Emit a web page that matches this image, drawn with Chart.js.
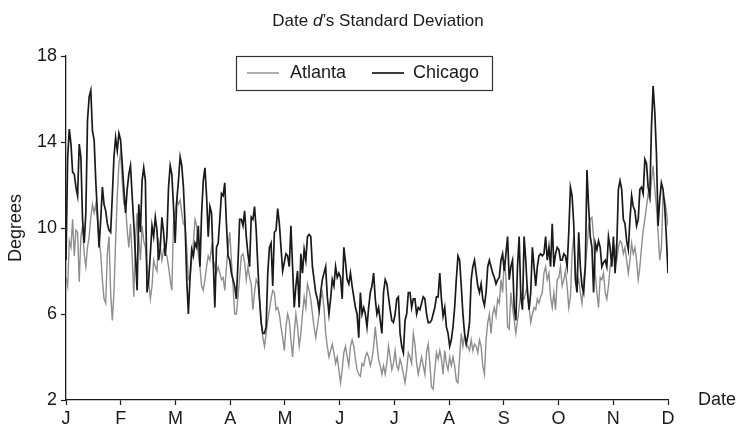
<!DOCTYPE html>
<html>
<head>
<meta charset="utf-8">
<title>Date d's Standard Deviation</title>
<script src="https://cdn.jsdelivr.net/npm/chart.js@4.4.1/dist/chart.umd.min.js"></script>
<style>
  html, body { margin: 0; padding: 0; background: #fff; }
  #wrap { width: 739px; height: 431px; }
</style>
</head>
<body>
<div id="wrap"><canvas id="chart" width="739" height="431"></canvas></div>
<script>
// one value per day of the year
const monthLabels = ['J', 'F', 'M', 'A', 'M', 'J', 'J', 'A', 'S', 'O', 'N', 'D'];
const yTicks = [2, 6, 10, 14, 18];
const seriesNames = ['Atlanta', 'Chicago'];

const atlanta = [
  7.7, 7.3, 9.4, 9.1, 10.4, 8.7, 9.9, 9.8, 7.5, 9.6, 10.1, 8.8, 8.2, 9.1, 9.6, 10.5, 11.1, 10.7, 11.1, 10.4,
  9.4, 8.8, 7.6, 6.7, 6.5, 8.8, 9.6, 7.0, 5.7, 7.0, 9.4, 11.5, 13.0, 13.5, 12.2, 11.1, 11.1, 9.9, 9.1, 10.2,
  8.7, 6.8, 9.4, 10.7, 9.6, 8.5, 10.1, 9.4, 9.1, 8.2, 7.5, 6.7, 7.3, 8.5, 8.2, 8.0, 9.4, 9.1, 8.5, 9.0,
  8.8, 8.7, 8.2, 7.6, 7.1, 10.2, 10.7, 11.3, 11.1, 11.3, 10.7, 10.2, 10.1, 9.1, 7.6, 7.7, 8.5, 9.3, 10.4, 10.1,
  8.8, 8.2, 7.3, 7.1, 7.6, 8.2, 8.7, 8.5, 9.1, 8.5, 8.2, 7.9, 8.2, 7.9, 7.6, 7.7, 7.1, 8.2, 9.1, 9.8,
  8.5, 7.3, 6.0, 6.0, 6.8, 7.7, 8.7, 8.8, 8.4, 7.6, 8.2, 7.7, 7.4, 6.2, 7.0, 7.6, 7.4, 6.7, 5.7, 4.9,
  4.5, 5.1, 5.7, 6.2, 6.7, 7.1, 7.0, 6.2, 6.3, 6.0, 5.4, 4.9, 4.3, 5.4, 6.0, 5.7, 4.8, 4.0, 5.1, 6.0,
  5.4, 4.5, 5.1, 6.0, 6.8, 6.3, 7.4, 7.1, 6.7, 6.0, 5.4, 4.9, 5.4, 6.0, 6.7, 7.0, 6.3, 5.1, 4.5, 4.0,
  4.3, 4.6, 4.2, 3.7, 4.0, 3.4, 2.8, 3.4, 4.2, 4.5, 4.0, 3.6, 4.5, 4.8, 4.5, 3.9, 3.4, 3.2, 3.1, 3.7,
  3.6, 4.0, 4.2, 4.0, 3.6, 3.9, 4.5, 5.4, 4.6, 3.9, 3.6, 3.2, 3.6, 3.2, 3.7, 4.5, 4.0, 3.4, 3.7, 4.3,
  3.6, 3.4, 3.9, 3.6, 3.2, 2.8, 3.4, 4.2, 4.0, 3.7, 5.1, 4.6, 3.7, 3.2, 3.6, 4.0, 3.6, 3.2, 4.2, 4.6,
  3.7, 2.6, 2.5, 3.4, 4.2, 3.9, 4.3, 3.9, 3.2, 4.3, 3.7, 3.4, 4.0, 3.6, 4.0, 3.6, 2.9, 2.8, 4.0, 5.1,
  4.5, 5.0, 4.6, 4.5, 4.3, 4.8, 4.3, 4.6, 4.5, 4.2, 4.8, 4.5, 3.6, 3.2, 4.8, 5.6, 6.0, 5.1, 6.0, 6.3,
  5.9, 6.7, 6.5, 7.6, 7.0, 8.5, 7.7, 5.4, 5.3, 7.0, 6.3, 5.7, 5.1, 5.7, 6.3, 7.0, 6.8, 6.7, 7.0, 7.3,
  6.3, 5.6, 6.0, 6.3, 6.2, 6.7, 6.5, 6.8, 7.0, 7.9, 8.2, 7.6, 7.9, 6.8, 6.3, 7.0, 6.2, 7.6, 7.7, 8.2,
  7.3, 7.6, 8.0, 7.3, 6.3, 6.8, 8.8, 9.6, 8.2, 7.3, 7.6, 7.0, 6.5, 7.6, 8.2, 9.1, 10.1, 10.4, 10.5, 9.6,
  7.9, 7.0, 6.3, 7.7, 7.6, 7.9, 7.0, 6.7, 7.3, 8.2, 8.5, 8.8, 9.1, 8.5, 9.1, 9.4, 9.3, 8.8, 9.1, 8.5,
  7.9, 8.5, 9.3, 8.8, 9.1, 8.5, 7.6, 8.2, 9.1, 9.9, 10.4, 11.0, 11.6, 11.3, 12.2, 12.9, 11.8, 11.0, 9.8, 8.5,
  9.1, 11.5, 11.3, 10.8, 10.1
];

const chicago = [
  8.5, 13.3, 14.6, 13.9, 12.6, 12.5, 11.9, 11.5, 13.9, 13.3, 10.4, 9.3, 10.7, 15.0, 16.1, 16.4, 14.5, 14.1, 12.2, 10.7,
  9.1, 10.4, 11.9, 11.1, 10.8, 10.2, 9.9, 9.8, 11.5, 13.3, 14.2, 13.6, 14.4, 14.1, 13.0, 11.8, 10.7, 11.8, 12.5, 12.9,
  11.5, 10.2, 8.7, 7.1, 11.1, 9.8, 12.2, 12.8, 12.2, 7.0, 7.6, 8.8, 10.1, 9.6, 10.5, 9.9, 8.5, 9.1, 10.5, 9.8,
  8.7, 9.6, 11.9, 12.9, 12.5, 11.0, 9.3, 11.3, 12.2, 13.3, 12.9, 11.9, 10.2, 7.6, 6.0, 7.7, 9.0, 8.7, 9.3, 9.1,
  10.1, 8.2, 10.7, 12.2, 12.8, 11.5, 9.6, 11.0, 10.7, 8.5, 6.3, 9.1, 9.3, 10.4, 11.6, 11.5, 12.1, 10.2, 8.7, 8.5,
  7.9, 7.6, 7.3, 6.7, 8.4, 10.4, 10.4, 10.1, 10.8, 9.6, 8.8, 8.2, 10.5, 10.4, 11.0, 9.9, 8.2, 6.7, 5.6, 5.1,
  5.1, 5.4, 7.9, 9.1, 9.3, 7.3, 9.8, 9.9, 10.9, 10.2, 9.1, 8.0, 8.4, 8.8, 8.7, 8.2, 10.1, 8.2, 6.3, 7.3,
  8.0, 6.3, 8.8, 7.9, 9.0, 8.5, 9.6, 9.7, 9.6, 8.2, 7.6, 7.0, 6.7, 6.2, 7.0, 7.6, 7.9, 8.2, 6.8, 6.0,
  6.7, 7.6, 7.3, 8.2, 7.7, 7.9, 7.7, 6.7, 9.1, 8.4, 7.6, 7.4, 7.9, 7.3, 6.8, 6.3, 6.0, 4.9, 7.0, 6.0,
  6.3, 6.0, 5.4, 6.3, 7.0, 7.3, 7.9, 6.7, 6.0, 6.3, 5.7, 5.1, 7.0, 7.6, 7.4, 6.8, 6.2, 5.7, 5.6, 6.0,
  6.7, 6.8, 5.1, 4.5, 4.2, 5.7, 6.0, 7.0, 7.0, 6.3, 6.7, 6.7, 6.0, 6.3, 6.2, 6.5, 6.8, 6.7, 6.0, 5.6,
  5.6, 5.7, 6.0, 6.3, 6.8, 6.8, 7.9, 6.7, 5.9, 6.3, 5.4, 5.1, 4.5, 4.8, 5.4, 6.3, 7.6, 8.7, 8.5, 7.3,
  6.0, 5.1, 4.6, 5.0, 5.6, 7.6, 8.2, 8.5, 7.9, 7.3, 7.0, 7.4, 6.7, 6.4, 7.0, 8.2, 8.5, 8.2, 7.9, 7.7,
  7.4, 7.6, 7.7, 8.5, 8.8, 8.0, 8.8, 9.6, 7.6, 8.2, 8.5, 6.3, 5.7, 8.2, 9.6, 6.8, 6.2, 9.6, 8.5, 7.0,
  6.2, 7.0, 9.1, 8.2, 7.3, 8.2, 8.7, 8.8, 8.7, 8.8, 9.6, 8.5, 9.1, 8.2, 10.2, 8.2, 8.8, 9.1, 9.0, 8.5,
  8.5, 8.8, 8.7, 8.2, 9.8, 11.9, 11.5, 10.2, 7.6, 7.0, 9.8, 8.2, 7.3, 7.0, 8.2, 12.7, 11.0, 9.6, 9.1, 7.0,
  9.3, 9.0, 9.4, 9.1, 8.2, 8.4, 8.5, 8.2, 9.6, 9.1, 8.2, 9.6, 7.9, 9.1, 11.8, 12.2, 11.8, 10.4, 10.2, 9.4,
  9.0, 10.4, 11.5, 11.0, 10.8, 10.1, 10.4, 11.8, 11.9, 11.6, 13.2, 13.0, 11.9, 11.5, 14.7, 16.6, 15.4, 13.5, 10.1, 11.3,
  12.1, 11.8, 11.0, 9.6, 7.9
];

(function () {
    'use strict';

    const FONT = '"Liberation Sans", Arial, Helvetica, sans-serif';
    const INK = '#1a1a1a';
    const GREY = '#8e8e8e';
    const lastDay = chicago.length - 1;

    function toPoints(values) {
        return values.map(function (v, i) { return { x: i, y: v }; });
    }

    // titre (avec d en italique), légende encadrée, titres d'axes
    const decorations = {
        id: 'decorations',
        afterDraw: function (chart) {
            const ctx = chart.ctx;
            const area = chart.chartArea;
            ctx.save();
            ctx.fillStyle = INK;

            const parts = [
                { text: 'Date ', style: '' },
                { text: 'd', style: 'italic ' },
                { text: '\u2019s Standard Deviation', style: '' }
            ];
            let total = 0;
            parts.forEach(function (p) {
                ctx.font = p.style + '17px ' + FONT;
                p.w = ctx.measureText(p.text).width;
                total += p.w;
            });
            let x = 378 - total / 2;
            ctx.textBaseline = 'alphabetic';
            parts.forEach(function (p) {
                ctx.font = p.style + '17px ' + FONT;
                ctx.fillText(p.text, x, 26);
                x += p.w;
            });

            // légende
            ctx.fillStyle = '#fff';
            ctx.fillRect(236.5, 56.5, 256, 34);
            ctx.strokeStyle = '#333';
            ctx.lineWidth = 1.2;
            ctx.strokeRect(236.5, 56.5, 256, 34);
            const items = [
                { name: seriesNames[0], color: GREY, width: 1.4, x0: 247, x1: 279, tx: 290 },
                { name: seriesNames[1], color: INK, width: 1.7, x0: 372, x1: 404, tx: 413 }
            ];
            ctx.font = '18px ' + FONT;
            ctx.textBaseline = 'middle';
            items.forEach(function (it) {
                ctx.strokeStyle = it.color;
                ctx.lineWidth = it.width;
                ctx.beginPath();
                ctx.moveTo(it.x0, 73);
                ctx.lineTo(it.x1, 73);
                ctx.stroke();
                ctx.fillStyle = INK;
                ctx.fillText(it.name, it.tx, 73);
            });

            ctx.textAlign = 'left';
            ctx.fillText('Date', 698, area.bottom);

            ctx.translate(16, (area.top + area.bottom) / 2);
            ctx.rotate(-Math.PI / 2);
            ctx.textAlign = 'center';
            ctx.fillText('Degrees', 0, 0);
            ctx.restore();
        }
    };

    const axisGrid = {
        drawOnChartArea: false,
        drawTicks: true,
        tickLength: 5,
        tickColor: INK,
        tickWidth: 1.2
    };

    new Chart(document.getElementById('chart'), {
        type: 'line',
        data: {
            datasets: [{
                label: seriesNames[0],
                data: toPoints(atlanta),
                borderColor: GREY,
                borderWidth: 1.4,
                pointRadius: 0,
                tension: 0,
                order: 2
            }, {
                label: seriesNames[1],
                data: toPoints(chicago),
                borderColor: INK,
                borderWidth: 1.7,
                pointRadius: 0,
                tension: 0,
                order: 1
            }]
        },
        options: {
            responsive: false,
            animation: false,
            layout: { padding: { top: 56, right: 71, left: 0, bottom: 0 } },
            plugins: {
                legend: { display: false },
                title: { display: false },
                tooltip: { enabled: false }
            },
            scales: {
                x: {
                    type: 'linear',
                    min: 0,
                    max: lastDay,
                    afterBuildTicks: function (scale) {
                        scale.ticks = monthLabels.map(function (_, i) {
                            return { value: i * lastDay / (monthLabels.length - 1) };
                        });
                    },
                    afterFit: function (scale) { scale.height = 31; },
                    ticks: {
                        autoSkip: false,
                        maxRotation: 0,
                        padding: 3,
                        color: INK,
                        font: { family: FONT, size: 18 },
                        callback: function (value, index) { return monthLabels[index]; }
                    },
                    grid: axisGrid,
                    border: { display: true, color: INK, width: 1.3 }
                },
                y: {
                    min: yTicks[0],
                    max: yTicks[yTicks.length - 1],
                    afterBuildTicks: function (scale) {
                        scale.ticks = yTicks.map(function (v) { return { value: v }; });
                    },
                    afterFit: function (scale) { scale.width = 66; },
                    ticks: {
                        padding: 4,
                        color: INK,
                        font: { family: FONT, size: 18 }
                    },
                    grid: axisGrid,
                    border: { display: true, color: INK, width: 1.3 }
                }
            }
        },
        plugins: [decorations]
    });
})();
</script>
</body>
</html>
